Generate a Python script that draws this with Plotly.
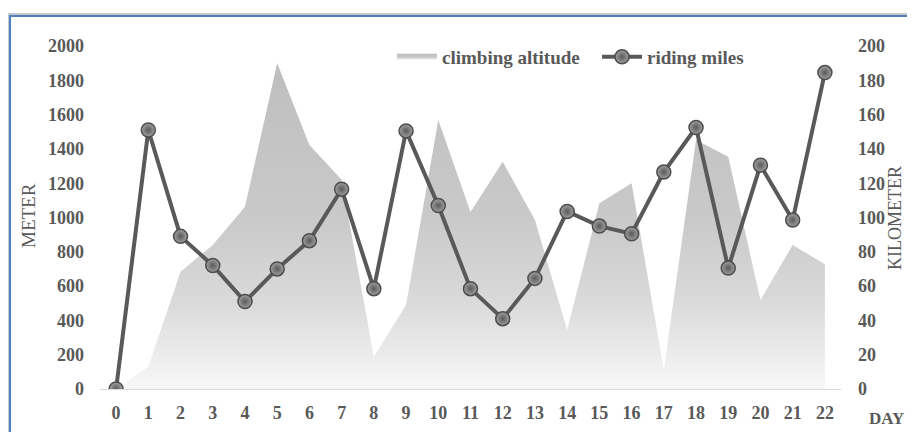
import plotly.graph_objects as go

days = list(range(23))
climbing_altitude = [0, 130, 684, 840, 1063, 1900, 1423, 1220, 188, 490, 1568, 1032, 1325, 985,
                     344, 1083, 1200, 111, 1452, 1354, 519, 840, 727]
riding_miles = [0, 151, 89, 72, 51, 70, 86.5, 116.5, 58.5, 150.5, 107, 58.5, 41, 64.5,
                103.5, 95, 90.5, 126.5, 152.5, 70.5, 130.5, 98.5, 184.5]
left_ticks = list(range(0, 2001, 200))
right_ticks = list(range(0, 201, 20))

FONT = "Liberation Serif"
TXT = "#595959"
# page offset (browser body margin)
OFF = 8
W, H = 915 - 2 * OFF, 432 - OFF
PL, PT, PW, PH = 100, 46, 741, 343  # plot area in screen pixels


def px_x(x):
    return (x - PL) / PW


def px_y(y):
    return (PT + PH - y) / PH


fig = go.Figure()
fig.add_trace(go.Scatter(
    x=days, y=climbing_altitude, name="climbing altitude", mode="none",
    fill="tozeroy",
    fillgradient=dict(type="vertical", start=0, stop=2000,
                      colorscale=[[0, "#f8f8f8"], [0.25, "#dadada"], [0.5, "#c9c9c9"], [1, "#bdbdbd"]]),
    yaxis="y",
))
fig.add_trace(go.Scatter(
    x=days, y=riding_miles, name="riding miles", mode="lines+markers",
    line=dict(color="#595959", width=4),
    marker=dict(size=14, color="#a0a0a0", line=dict(color="#4d4d4d", width=1.5),
                gradient=dict(type="radial", color="#5a5a5a")),
    yaxis="y2",
))

fig.update_layout(
    width=W, height=H,
    margin=dict(l=PL - OFF, r=W - (PL + PW - OFF), t=PT - OFF, b=H - (PT + PH - OFF)),
    paper_bgcolor="white", plot_bgcolor="white",
    showlegend=True,
    legend=dict(orientation="h", x=px_x(392), xanchor="left", y=px_y(57), yanchor="middle",
                font=dict(family=FONT, size=19, color=TXT, weight="bold"),
                bgcolor="rgba(0,0,0,0)", itemwidth=40, tracegroupgap=0,
                entrywidth=150, entrywidthmode="pixels"),
    xaxis=dict(range=[-0.5, 22.5], tickmode="array", tickvals=days, ticktext=[str(d) for d in days],
               showgrid=False, zeroline=False, showline=True, linecolor="#d9d9d9", linewidth=1,
               ticks="", ticklabelstandoff=7, automargin=False,
               tickfont=dict(family=FONT, size=18, color=TXT, weight="bold")),
    yaxis=dict(range=[0, 2000], tickmode="array", tickvals=left_ticks, showgrid=False, zeroline=False,
               showline=False, ticks="", ticklabelstandoff=15, automargin=False,
               tickfont=dict(family=FONT, size=18, color=TXT, weight="bold")),
    yaxis2=dict(range=[0, 200], tickmode="array", tickvals=right_ticks, overlaying="y", side="right",
                showgrid=False, zeroline=False, showline=False, ticks="", ticklabelstandoff=16,
                automargin=False,
                tickfont=dict(family=FONT, size=18, color=TXT, weight="bold")),
    annotations=[
        dict(text="METER", xref="paper", yref="paper", x=px_x(28), y=px_y(216),
             xanchor="center", yanchor="middle",
             textangle=-90, showarrow=False, font=dict(family=FONT, size=19, color=TXT)),
        dict(text="KILOMETER", xref="paper", yref="paper", x=px_x(895), y=px_y(218),
             xanchor="center", yanchor="middle", borderpad=0,
             textangle=-90, showarrow=False, font=dict(family=FONT, size=18, color=TXT)),
        dict(text="DAY", xref="paper", yref="paper", x=px_x(887), y=px_y(418),
             xanchor="center", yanchor="middle",
             showarrow=False, font=dict(family=FONT, size=17, color=TXT, weight="bold")),
    ],
    shapes=[
        dict(type="rect", xref="paper", yref="paper", layer="below",
             x0=px_x(8), x1=1.3, y0=-0.3, y1=px_y(14),
             line=dict(color="#c8c8c8", width=2), fillcolor="rgba(0,0,0,0)"),
        dict(type="rect", xref="paper", yref="paper", layer="below",
             x0=px_x(10), x1=1.3, y0=-0.3, y1=px_y(16),
             line=dict(color="#4f81bd", width=2), fillcolor="rgba(0,0,0,0)"),
    ],
)

fig.write_html("out.html")
